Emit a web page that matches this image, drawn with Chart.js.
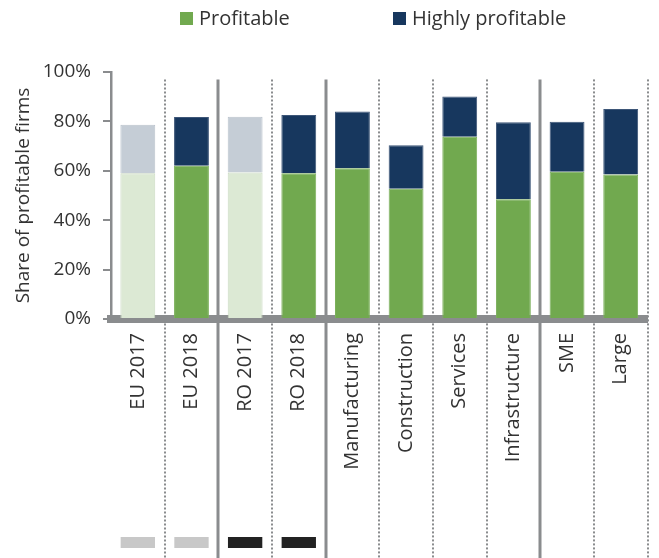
<!DOCTYPE html>
<html>
<head>
<meta charset="utf-8">
<script src="https://cdn.jsdelivr.net/npm/chart.js@4/dist/chart.umd.min.js"></script>
<style>
  body { margin: 0; background: #fff; font-family: "Open Sans", sans-serif; }
  #wrap { position: relative; width: 659px; height: 558px; }
  .lg-box { position: absolute; top: 12px; width: 13px; height: 13px; }
  .lg-txt { position: absolute; top: 4px; font-size: 20px; color: #333; line-height: 28px; }
</style>
</head>
<body>
<div id="wrap">
  <canvas id="myChart" width="659" height="558"></canvas>
  <span class="lg-box" style="left:180px;background:#71a94f"></span>
  <span class="lg-txt" style="left:199px">Profitable</span>
  <span class="lg-box" style="left:393px;background:#17375e"></span>
  <span class="lg-txt" style="left:412px">Highly profitable</span>
</div>
<script>
const categories = ["EU 2017", "EU 2018", "RO 2017", "RO 2018", "Manufacturing", "Construction", "Services", "Infrastructure", "SME", "Large"];
const profitable = [59, 62, 59.3, 59, 61, 52.7, 73.8, 48.5, 59.6, 58.5];
const highlyProfitable = [19.6, 19.8, 22.6, 23.6, 23, 17.6, 16.3, 31.2, 20.3, 26.5];
const yTicks = [0, 20, 40, 60, 80, 100];
// previous-year bars are shown faded
const fadedCats = ["EU 2017", "RO 2017"];
// solid separator after these categories, dotted elsewhere
const groupEnds = ["EU 2018", "RO 2018", "Infrastructure"];
// little markers under the EU / RO bars
const euCats = ["EU 2017", "EU 2018"];
const roCats = ["RO 2017", "RO 2018"];

const canvas = document.querySelector("canvas#myChart");
const axisGrey = "#8a8c8e";
const textCol = "#333333";

const separators = {
  id: "separators",
  afterDatasetsDraw(chart) {
    const { ctx, scales: { x, y } } = chart;
    const step = x.getPixelForValue(1) - x.getPixelForValue(0);
    const top = y.getPixelForValue(97);
    ctx.save();
    categories.forEach((c, i) => {
      const px = Math.round(x.getPixelForValue(i) + step / 2);
      const solid = groupEnds.includes(c);
      ctx.beginPath();
      ctx.strokeStyle = axisGrey;
      ctx.lineWidth = solid ? 3 : 2;
      ctx.setLineDash(solid ? [] : [2, 2]);
      ctx.moveTo(px, top);
      ctx.lineTo(px, chart.height);
      ctx.stroke();
    });
    ctx.setLineDash([]);
    // markers at the bottom
    const w = step * 0.64;
    categories.forEach((c, i) => {
      let col = null;
      if (euCats.includes(c)) col = "#c8c8c8";
      if (roCats.includes(c)) col = "#222222";
      if (!col) return;
      ctx.fillStyle = col;
      ctx.fillRect(x.getPixelForValue(i) - w / 2, chart.height - 21, w, 11);
    });
    ctx.restore();
  },
};

const chart = new Chart(canvas, {
  type: "bar",
  data: {
    labels: categories,
    datasets: [
      {
        label: "Profitable",
        data: profitable,
        backgroundColor: categories.map((c) => (fadedCats.includes(c) ? "#dce9d4" : "#71a94f")),
        borderColor: categories.map((c) => (fadedCats.includes(c) ? "#c9d9c0" : "#7cb05c")),
        borderWidth: 1,
      },
      {
        label: "Highly profitable",
        data: highlyProfitable,
        backgroundColor: categories.map((c) => (fadedCats.includes(c) ? "#c5cdd6" : "#17375e")),
        borderColor: categories.map((c) => (fadedCats.includes(c) ? "#b9c2cc" : "#3d5678")),
        borderWidth: 1,
      },
    ],
  },
  options: {
    responsive: false,
    animation: false,
    barPercentage: 0.65,
    categoryPercentage: 1,
    layout: { padding: { top: 72, right: 6, left: 0, bottom: 0 } },
    plugins: {
      legend: { display: false },
      tooltip: { enabled: false },
    },
    scales: {
      x: {
        stacked: true,
        z: 1,
        grid: { display: false, drawTicks: false },
        border: { display: true, color: axisGrey, width: 8 },
        ticks: {
          color: textCol,
          font: { family: "Open Sans", size: 20 },
          minRotation: 90,
          maxRotation: 90,
          autoSkip: false,
          padding: 14,
        },
        afterFit(scale) {
          scale.height = 239;
        },
      },
      y: {
        stacked: true,
        min: 0,
        max: 100,
        afterBuildTicks(scale) {
          scale.ticks = yTicks.map((v) => ({ value: v }));
        },
        grid: { drawOnChartArea: false, color: axisGrey, lineWidth: 2, tickLength: 8 },
        border: { display: true, color: axisGrey, width: 2.5 },
        ticks: {
          color: textCol,
          font: { family: "Open Sans", size: 19 },
          padding: 12,
          callback: (v) => v + "%",
        },
        title: {
          display: true,
          text: "Share of profitable firms",
          color: textCol,
          font: { family: "Open Sans", size: 19 },
          padding: { top: 12, bottom: 0 },
        },
        afterFit(scale) {
          scale.width = 111;
        },
      },
    },
  },
  plugins: [separators],
});
</script>
</body>
</html>
